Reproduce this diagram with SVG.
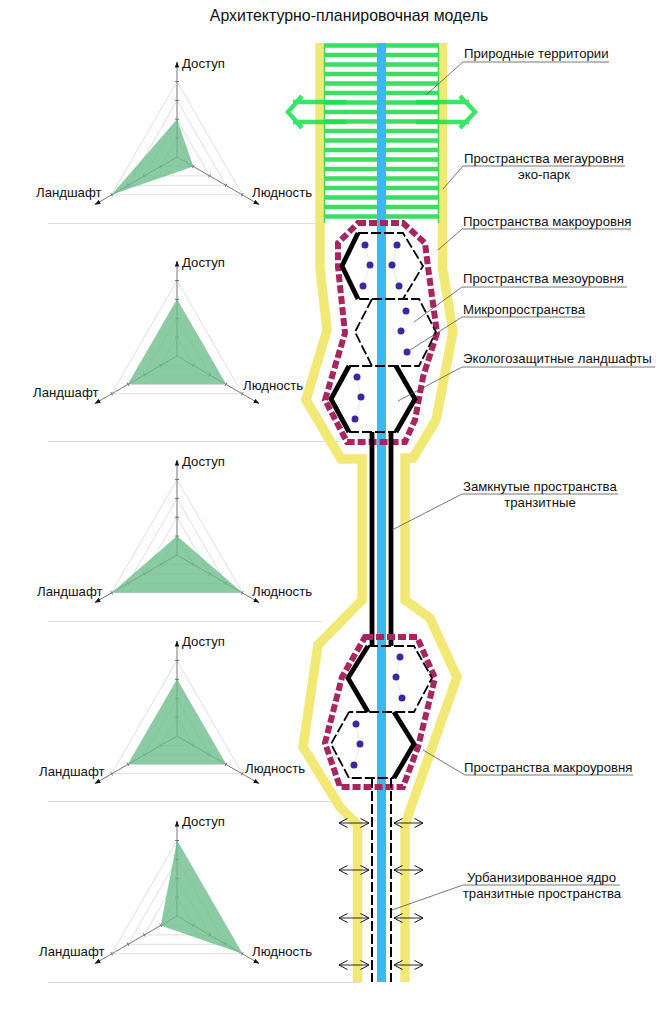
<svg xmlns="http://www.w3.org/2000/svg" xmlns:xlink="http://www.w3.org/1999/xlink" width="663" height="1024" viewBox="0 0 663 1024">
<style>
text{font-family:"Liberation Sans",Arial,sans-serif;font-size:13.2px;fill:#111}
.title{font-size:15.9px}
.mid{text-anchor:middle}
.sep{stroke:#ddd;stroke-width:1;fill:none}
.yellow{fill:none;stroke:#f2e876;stroke-width:9.5;stroke-linejoin:miter}
.blue{fill:#3bb8ee}
.stripe{stroke:#3ddc62;stroke-width:4.500;fill:none}
.rail{stroke:#3ddc62;stroke-width:1.5;fill:none}
.gate{stroke:#17e04c;stroke-width:4.500;fill:none;opacity:.85}
.wall{stroke:#000;stroke-width:4.800;fill:none;stroke-linejoin:miter}
.soft{stroke:#000;stroke-width:1.800;fill:none;stroke-dasharray:10 3}
.hedge{stroke:#a8255f;stroke-width:6;fill:none;stroke-dasharray:8 3}
.dot{fill:#352a9e}
.dotlink{stroke:#dcdce8;stroke-width:.7;fill:none}
.leader{stroke:#555;stroke-width:.8;fill:none}
.open{stroke:#111;stroke-width:.9;fill:none;marker-start:url(#openEnd);marker-end:url(#openEnd)}
.grid{stroke:#d6d6d6;stroke-width:.8;fill:none}
.axis{stroke:#666;stroke-width:.9;fill:none}
.value{fill:#6abd8b;fill-opacity:.78;stroke:none}
</style>
<defs>
<marker id="openEnd" viewBox="0 0 10 10" refX="9.5" refY="5" markerWidth="10" markerHeight="10" markerUnits="userSpaceOnUse" orient="auto-start-reverse"><path d="M1 .5L9.5 5L1 9.5" fill="none" stroke="#111" stroke-width="1"/></marker>
<marker id="tip" viewBox="0 0 6 6" refX="5.5" refY="3" markerWidth="6" markerHeight="6" markerUnits="userSpaceOnUse" orient="auto"><path d="M0 .8L6 3L0 5.2Z" fill="#111"/></marker>
<g id="radarBase">
<path class="grid" d="M0-75.500L65.400 37.750L-65.400 37.750Z"/>
<path class="grid" d="M0-56.600L49 28.300L-49 28.300Z"/>
<path class="grid" d="M0-37.750L32.700 18.900L-32.700 18.900Z"/>
<path class="grid" d="M0-18.900L16.300 9.400L-16.300 9.400Z"/>
<path class="axis" marker-end="url(#tip)" d="M0 0V-95"/>
<path class="axis" marker-end="url(#tip)" d="M0 0L82 47.500"/>
<path class="axis" marker-end="url(#tip)" d="M0 0L-82 47.500"/>
<path class="axis" d="M-2-18.900H2M-2-37.750H2M-2-56.600H2M-2-75.500H2M15.300 11.100L17.300 7.700M31.700 20.600L33.700 17.200M48 30L50 26.600M64.400 39.500L66.400 36M-15.300 11.100L-17.300 7.700M-31.700 20.600L-33.700 17.200M-48 30L-50 26.600M-64.400 39.500L-66.400 36"/>
</g>
</defs>
<rect width="663" height="1024" fill="#fff"/>
<text class="title mid" x="349" y="21">Архитектурно-планировочная модель</text>
<g id="separators">
<path class="sep" d="M48 223.500H319M48 441.500H340M48 621.500H322M48 801.500H335M48 982.500H360"/>
</g>
<g id="radar-1"><use xlink:href="#radarBase" href="#radarBase" transform="translate(177 157)"/>
<path class="value" transform="translate(177 157)" d="M0-37.750L16.300 9.400L-65.400 37.750Z"/>
<text x="182" y="68">Доступ</text><text x="36" y="197">Ландшафт</text><text x="252" y="197">Людность</text></g>
<g id="radar-2"><use xlink:href="#radarBase" href="#radarBase" transform="translate(177 356)"/>
<path class="value" transform="translate(177 356)" d="M0-56.600L49 28.300L-49 28.300Z"/>
<text x="182" y="267">Доступ</text><text x="33" y="397">Ландшафт</text><text x="243" y="390">Людность</text></g>
<g id="radar-3"><use xlink:href="#radarBase" href="#radarBase" transform="translate(177 555)"/>
<path class="value" transform="translate(177 555)" d="M0-18.900L65.400 37.750L-65.400 37.750Z"/>
<text x="182" y="466">Доступ</text><text x="37" y="596">Ландшафт</text><text x="252" y="596">Людность</text></g>
<g id="radar-4"><use xlink:href="#radarBase" href="#radarBase" transform="translate(177 736)"/>
<path class="value" transform="translate(177 736)" d="M0-56.600L49 28.300L-49 28.300Z"/>
<text x="182" y="646">Доступ</text><text x="39" y="776">Ландшафт</text><text x="245" y="773">Людность</text></g>
<g id="radar-5"><use xlink:href="#radarBase" href="#radarBase" transform="translate(177 916)"/>
<path class="value" transform="translate(177 916)" d="M0-75.500L65.400 37.750L-16.300 9.400Z"/>
<text x="182" y="826">Доступ</text><text x="39" y="956">Ландшафт</text><text x="252" y="956">Людность</text></g>
<g id="mega-space">
<path class="yellow" d="M320 43V268L327 330L306 400L341 459H362V600L318 645L303 747L340 807L357.500 825V982"/>
<path class="yellow" d="M442.500 43V268L453 332L436 420L413 458H405V600L430 618L457 677L410 810L405 825V982"/>
</g>
<g id="natural-territory">
<path class="stripe" d="M324 45.500H439M324 55H439M324 64.500H439M324 74H439M324 83.500H439M324 93H439M324 102.500H439M324 112H439M324 121.500H439M324 131H439M324 140.500H439M324 150H439M324 159.500H439M324 169H439M324 178.500H439M324 188H439M324 197.500H439M324 207H439M324 216.500H439"/>
<path class="rail" d="M324.500 45V223M438.500 45V223"/>
</g>
<rect id="transit-axis" class="blue" x="377" y="43" width="9" height="939"/>
<g id="gates">
<path class="gate" d="M346 102H293M346 122H293M302 96L288 112L302 128"/>
<path class="gate" d="M416 102H469M416 122H469M460 96L475 112L460 128"/>
</g>
<g id="macro-upper">
<path class="hedge" d="M358 223H403L425 243L428 267L437 333L423 377L415 420L405 442H347L325 400L345 333L338 267V243Z"/>
<path class="wall" d="M358 233L342 266L358 299"/>
<path class="soft" d="M358 233H403L423 266L403 299H358"/>
<path class="dotlink" d="M365 245L370 265L363 286M397 245L392 265L399 286"/>
<circle class="dot" cx="365" cy="245" r="3.500"/><circle class="dot" cx="370" cy="265" r="3.500"/><circle class="dot" cx="363" cy="286" r="3.500"/>
<circle class="dot" cx="397" cy="245" r="3.500"/><circle class="dot" cx="392" cy="265" r="3.500"/><circle class="dot" cx="399" cy="286" r="3.500"/>
</g>
<g id="meso-upper">
<path class="soft" d="M372 299H419L436 332L419 366H349M372 299L355 332L372 366"/>
<circle class="dot" cx="406" cy="311" r="3.500"/><circle class="dot" cx="401" cy="331" r="3.500"/><circle class="dot" cx="407" cy="352" r="3.500"/>
</g>
<g id="protective-upper">
<path class="wall" d="M349 366L331 399L349 432M396 366L415 399L396 432"/>
<path class="soft" d="M349 432H396"/>
<path class="dotlink" d="M357 377L361 397L355 419"/>
<circle class="dot" cx="357" cy="377" r="3.500"/><circle class="dot" cx="361" cy="397" r="3.500"/><circle class="dot" cx="355" cy="419" r="3.500"/>
</g>
<g id="enclosed-transit">
<path class="wall" d="M372 432V646M391 432V646"/>
</g>
<g id="macro-lower">
<path class="hedge" d="M365 637H417L435 678L418 747L403 787H340L325 743L342 677Z"/>
<path class="wall" d="M368 646L348 678L368 712"/>
<path class="soft" d="M368 646H414L432 678L414 712H349"/>
<path class="dotlink" d="M400 657L396 677L402 698"/>
<circle class="dot" cx="400" cy="657" r="3.500"/><circle class="dot" cx="396" cy="677" r="3.500"/><circle class="dot" cx="402" cy="698" r="3.500"/>
</g>
<g id="protective-lower">
<path class="wall" d="M394 712L414 744L394 778"/>
<path class="soft" d="M349 712L331 744L349 778H394"/>
<path class="dotlink" d="M356 724L360 744L354 765"/>
<circle class="dot" cx="356" cy="724" r="3.500"/><circle class="dot" cx="360" cy="744" r="3.500"/><circle class="dot" cx="354" cy="765" r="3.500"/>
</g>
<g id="urban-core">
<path class="soft" style="stroke-width:2" d="M372 778V982M391 778V982"/>
<path class="open" d="M339 823H369"/><path class="open" d="M339 870H369"/><path class="open" d="M339 918H369"/><path class="open" d="M339 965H369"/>
<path class="open" d="M394 823H423"/><path class="open" d="M394 870H423"/><path class="open" d="M394 918H423"/><path class="open" d="M394 965H423"/>
</g>
<g id="connectors">
<path class="leader" d="M426 95L463 62H609"/>
<path class="leader" d="M443 189L463 166H625"/>
<path class="leader" d="M438 250L462 229H631"/>
<path class="leader" d="M414 322L462 287H627"/>
<path class="leader" d="M407 352L462 317H585"/>
<path class="leader" d="M398 401L462 367H655"/>
<path class="leader" d="M392 530L462 494H618"/>
<path class="leader" d="M423 750L465 775H633"/>
<path class="leader" d="M392 910L463 885H620"/>
</g>
<g id="labels">
<text x="464" y="58">Природные территории</text>
<text x="464" y="163">Пространства мегауровня</text>
<text class="mid" x="544" y="179">эко-парк</text>
<text x="463" y="226">Пространства макроуровня</text>
<text x="463" y="283">Пространства мезоуровня</text>
<text x="463" y="314">Микропространства</text>
<text x="463" y="363">Экологозащитные ландшафты</text>
<text x="463" y="491">Замкнутые пространства</text>
<text class="mid" x="540" y="507">транзитные</text>
<text x="464" y="772">Пространства макроуровня</text>
<text x="467" y="882">Урбанизированное ядро</text>
<text class="mid" x="542" y="898">транзитные пространства</text>
</g>
</svg>
